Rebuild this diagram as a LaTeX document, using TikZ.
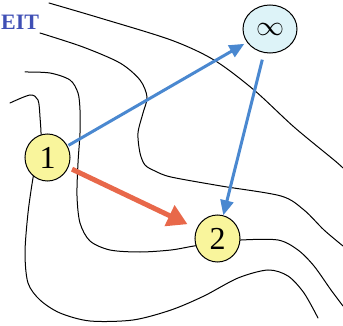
\documentclass[tikz,border=0pt]{standalone}
\usepackage{fontspec}
\setmainfont{Liberation Serif}
\usetikzlibrary{arrows.meta,shapes.geometric}
\definecolor{nodeyellow}{HTML}{F9F59C}
\definecolor{nodecyan}{HTML}{DDF3F8}
\definecolor{arrowblue}{HTML}{4A88D0}
\definecolor{arrowred}{HTML}{E8684A}
\definecolor{titleblue}{HTML}{3F4FB5}
\tikzset{
  contour/.style={draw=black, line width=1pt, line cap=round},
  statenode/.style={ellipse, draw=black, line width=1pt, fill=nodeyellow, inner sep=0pt,
    minimum width=45pt, minimum height=47pt, font=\fontsize{32}{32}\selectfont},
  infnode/.style={ellipse, draw=black, line width=1pt, fill=nodecyan, inner sep=0pt,
    minimum width=54pt, minimum height=48pt},
  bluearrow/.style={draw=arrowblue, line width=3pt, -{Triangle[length=15pt,width=13pt]}},
  redarrow/.style={draw=arrowred, line width=5pt, -{Triangle[length=20pt,width=22pt]}}
}
\begin{document}
\begin{tikzpicture}[x=1pt,y=-1pt]
\useasboundingbox (0,0) rectangle (343,326);
% contour lines
\draw[contour] plot[smooth] coordinates {(49,3) (100,18) (171,40) (214,60) (254,90) (294,127) (334,160) (343,168)};
\draw[contour] plot[smooth] coordinates {(40,33) (83,47) (120,63) (140,80) (147,97) (143,113) (138,133) (140,153) (145,165) (155,171) (171,177) (221,186) (281,196) (304,210) (324,230) (343,246)};
\draw[contour] plot[smooth] coordinates {(25,72) (50,73) (70,80) (78,93) (80,110) (80,133) (78,163) (77,196) (80,223) (90,241) (110,250) (140,252) (171,250) (194,246) (217,243) (241,240) (278,240) (298,250) (314,266) (331,290) (343,306)};
\draw[contour] plot[smooth] coordinates {(10,103) (30,95) (38,100) (40,117) (41,140) (37,160) (33,178) (28,213) (25,253) (28,283) (40,300) (60,313) (90,321) (133,320) (171,310) (204,296) (238,278) (268,270) (288,276) (304,293) (318,318)};
% title
\node[anchor=west, text=titleblue, font=\bfseries\fontsize{22}{22}\selectfont, inner sep=0pt] (title) at (1,22.5) {EIT};
% nodes
\node[statenode] (n1) at (47.5,157.5) {1};
\node[statenode] (n2) at (217.5,238.5) {2};
\node[infnode] (ninf) at (270,29) {\scalebox{1.35}{\fontsize{20}{20}\selectfont$\infty$}};
% arrows
\draw[bluearrow, shorten <=1pt, shorten >=3pt] (n1) -- (ninf);
\draw[bluearrow, shorten <=7pt, shorten >=0pt] (ninf) -- (n2);
\draw[redarrow, shorten <=4pt, shorten >=10pt] (n1) -- (n2);
\end{tikzpicture}
\end{document}
